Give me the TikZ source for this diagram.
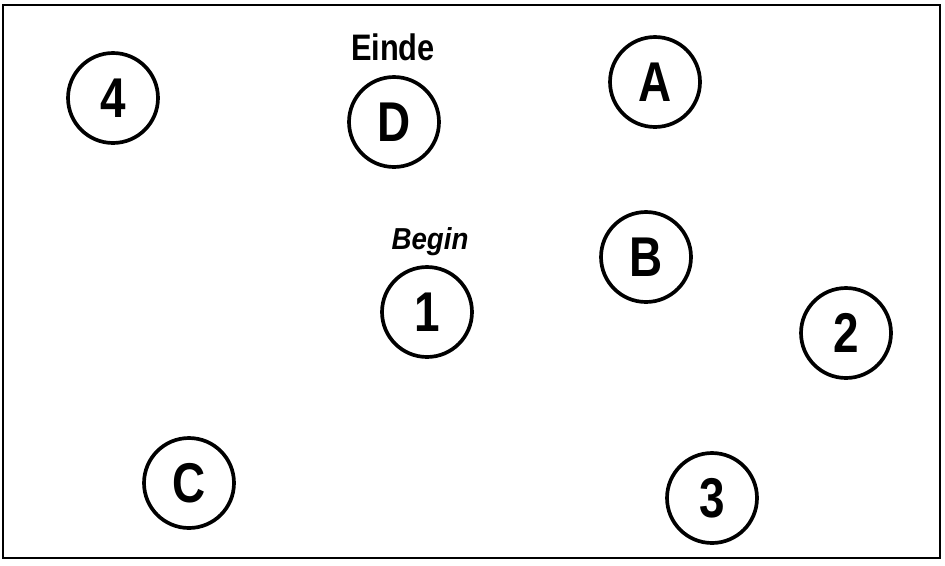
\documentclass[tikz,border=0pt]{standalone}
\usepackage{fontspec}
\setmainfont{Liberation Sans}
\usepackage{tikz}
\usetikzlibrary{positioning}

\begin{document}
\begin{tikzpicture}[
  x=0.02cm, y=-0.02cm,
  st/.style={draw, circle, line width=2.1pt, minimum size=1.8cm, inner sep=0pt,
             font=\bfseries\fontsize{29}{29}\selectfont},
  lb/.style={inner sep=0pt, font=\bfseries}
]
\useasboundingbox (0,0) rectangle (945,565);
% frame
\draw[line width=1.6pt] (3,5) rectangle (940,558);
% stations
\node[st] (s4) at (113,98)  {\scalebox{0.9}[1.1]{4}};
\node[st] (sD) at (394,122) {\scalebox{0.9}[1.1]{D}};
\node[st] (sA) at (655,82)  {\scalebox{0.9}[1.1]{A}};
\node[st] (sB) at (646,257) {\scalebox{0.9}[1.1]{B}};
\node[st] (s1) at (427,312) {\scalebox{0.9}[1.1]{1}};
\node[st] (s2) at (846,333) {\scalebox{0.9}[1.1]{2}};
\node[st] (sC) at (189,483) {\scalebox{0.9}[1.1]{C}};
\node[st] (s3) at (712,498) {\scalebox{0.9}[1.1]{3}};
% labels
\node[lb, font=\bfseries\fontsize{17.5}{18}\selectfont] (einde) at (393,47) {\scalebox{1}[1.2]{Einde}};
\node[lb, font=\bfseries\itshape\fontsize{15}{16}\selectfont] (begin) at (430,242) {\scalebox{1.05}[1.15]{Begin}};
\end{tikzpicture}
\end{document}
